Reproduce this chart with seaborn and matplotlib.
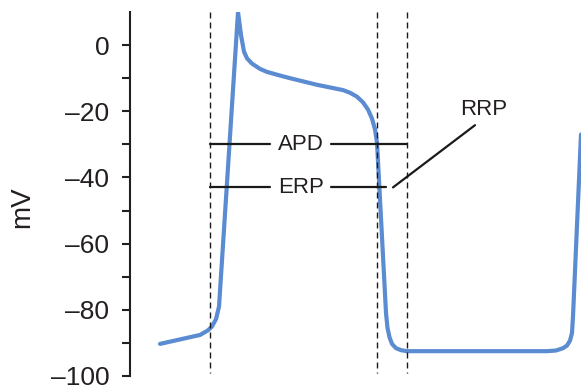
import numpy as np
import pandas as pd
import seaborn as sns
import matplotlib.pyplot as plt

# action potential trace (time in arbitrary units, voltage in mV)
time = [160, 200, 208, 212, 216, 219, 238, 241, 244, 247, 252, 260, 267, 280, 290, 317, 343,
        350, 357, 363, 368, 372, 375, 377, 386, 387.5, 389.5, 392, 396, 401, 407,
        450, 500, 547, 556, 563, 567, 570, 572, 573, 581]
mv = [-90.3, -87.6, -86.2, -85, -82.8, -79, 10, 3, -2, -4, -5.6, -7.2, -8.1, -9.2, -10, -12,
      -13.6, -14.4, -15.6, -17.3, -19.5, -22.2, -25.5, -29.5, -81, -85.5, -88.3, -90.3, -91.6,
      -92.2, -92.5, -92.5, -92.5, -92.5, -92.3, -91.6, -90.8, -89.3, -87, -82, -27]

ytick_vals = [0, -20, -40, -60, -80, -100]
ytick_labels = ["0", "\u201320", "\u201340", "\u201360", "\u201380", "\u2013100"]
markers_x = [210, 377, 407]
apd_y = -30
erp_y = -43

df = pd.DataFrame({"t": time, "mV": mv})

sns.set_style("ticks")
plt.rcParams["font.family"] = ["Liberation Sans", "DejaVu Sans"]

fig = plt.figure(figsize=(5.81, 3.85), dpi=100)
ax = fig.add_axes([0.2238, 0.0234, 0.7762, 0.9454])

sns.lineplot(data=df, x="t", y="mV", ax=ax, color="#5b8bd0", linewidth=3, sort=False)

for xv in markers_x:
    ax.plot([xv, xv], [10, -99], ls=(0, (4.3, 2.9)), color="#1a1a1a", lw=1.0)

# APD / ERP bars
ax.plot([210, 270], [apd_y, apd_y], color="#1a1a1a", lw=1.6)
ax.plot([331, 407], [apd_y, apd_y], color="#1a1a1a", lw=1.6)
ax.text(301, apd_y, "APD", ha="center", va="center", fontsize=16, color="#231f20")
ax.plot([210, 270], [erp_y, erp_y], color="#1a1a1a", lw=1.6)
ax.plot([331, 386], [erp_y, erp_y], color="#1a1a1a", lw=1.6)
ax.text(301, erp_y, "ERP", ha="center", va="center", fontsize=16, color="#231f20")
ax.plot([393, 475], [-43, -24.2], color="#1a1a1a", lw=1.6)
ax.text(484, -19.6, "RRP", ha="center", va="center", fontsize=16, color="#231f20")

ax.set_xlim(130, 581)
ax.set_ylim(-100, 10)
ax.set_yticks(ytick_vals)
ax.set_yticklabels(ytick_labels)
ax.set_yticks(np.arange(-90, 10, 20), minor=True)
ax.tick_params(axis="y", which="both", length=6, width=1.5, labelsize=19,
               colors="#231f20", pad=9)
ax.set_xticks([])
ax.set_xlabel("")
ax.set_ylabel("mV", fontsize=20, color="#231f20")
ax.yaxis.set_label_coords(-0.211, 0.464)
for s in ["top", "right", "bottom"]:
    ax.spines[s].set_visible(False)
ax.spines["left"].set_linewidth(1.5)
ax.spines["left"].set_color("#231f20")

fig.savefig("out.png", dpi=100)
